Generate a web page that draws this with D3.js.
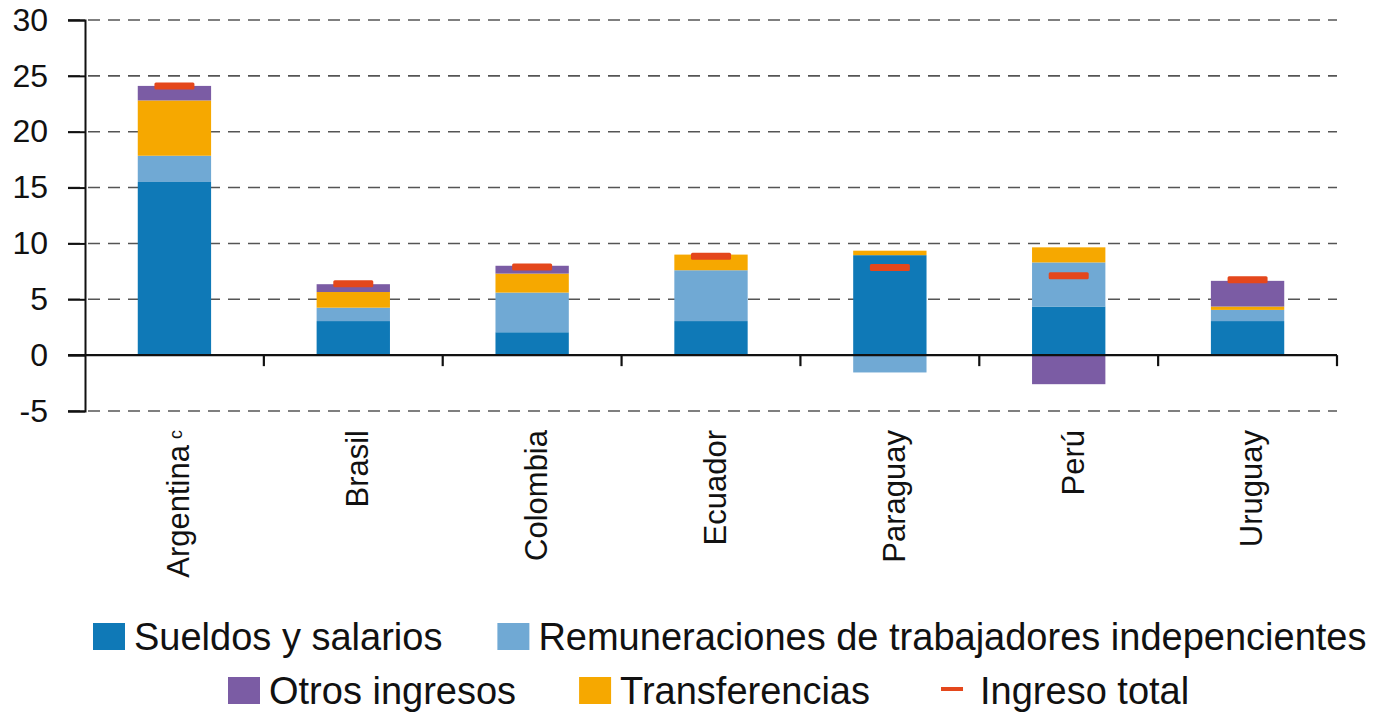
<!DOCTYPE html>
<html>
<head>
<meta charset="utf-8">
<script src="https://cdn.jsdelivr.net/npm/d3@7"></script>
<style>
  body { margin: 0; background: #fff; }
  text { font-family: "Liberation Sans", Arial, sans-serif; fill: #111; }
</style>
</head>
<body>
<div id="plot_div"></div>
<script>
const width  = 1377;
const height = 714;
const margin = {top: 20, right: 40, bottom: 303, left: 85};

// data
const countries   = ["Argentina", "Brasil", "Colombia", "Ecuador", "Paraguay", "Perú", "Uruguay"];
const sueldos     = [15.5, 3.05, 2.05, 3.05, 8.95, 4.35, 3.05];
const remun       = [2.35, 1.2, 3.55, 4.55, -1.55, 3.95, 1.0];
const transfer    = [4.95, 1.4, 1.7, 1.4, 0.4, 1.35, 0.3];
const otros       = [1.3, 0.7, 0.7, 0.0, 0.0, -2.6, 2.3];
const total       = [24.1, 6.4, 7.9, 8.85, 7.85, 7.1, 6.75];
const yTicks      = [-5, 0, 5, 10, 15, 20, 25, 30];

const keys   = ["sueldos", "remun", "transfer", "otros"];
const names  = {sueldos: "Sueldos y salarios",
                remun: "Remuneraciones de trabajadores indepencientes",
                otros: "Otros ingresos",
                transfer: "Transferencias",
                total: "Ingreso total"};
const colors = {sueldos: "#0f79b7", remun: "#70a9d4", transfer: "#f6a800",
                otros: "#7b5ca4", total: "#e4471c"};

const table = countries.map((c, i) => ({country: c, sueldos: sueldos[i], remun: remun[i],
                                         transfer: transfer[i], otros: otros[i], total: total[i]}));

const svg = d3.create("svg")
      .attr("width", width)
      .attr("height", height)
      .attr("viewBox", [0, 0, width, height]);

// attach now so text can be measured
plot_div.append(svg.node());

const x = d3.scaleBand()
      .domain(countries)
      .range([margin.left, width - margin.right])
      .paddingInner(0.59)
      .paddingOuter(0.295);

const y = d3.scaleLinear()
      .domain([-5, 30])
      .range([height - margin.bottom, margin.top]);

// dashed grid
svg.append("g")
    .selectAll("line")
    .data(yTicks.filter(d => d !== 0))
    .join("line")
    .attr("x1", margin.left - 17)
    .attr("x2", width - margin.right)
    .attr("y1", d => y(d))
    .attr("y2", d => y(d))
    .attr("stroke", "#555")
    .attr("stroke-width", 1.6)
    .attr("stroke-dasharray", "12,8");

// y axis
const yAxis = svg.append("g")
    .attr("transform", `translate(${margin.left},0)`)
    .call(d3.axisLeft(y).tickValues(yTicks).tickSize(17).tickPadding(20)
          .tickFormat(d => String(d)));
yAxis.selectAll("path, line").attr("stroke", "#111").attr("stroke-width", 2);
yAxis.selectAll("text")
    .style("font-family", "'Liberation Sans', Arial, sans-serif")
    .style("font-size", "32px")
    .attr("fill", "#111");

// stacked bars
const series = d3.stack().keys(keys).offset(d3.stackOffsetDiverging)(table);

svg.append("g")
    .selectAll("g")
    .data(series)
    .join("g")
    .attr("fill", d => colors[d.key])
    .selectAll("rect")
    .data(d => d)
    .join("rect")
    .attr("x", d => x(d.data.country))
    .attr("width", x.bandwidth())
    .attr("y", d => y(Math.max(d[0], d[1])))
    .attr("height", d => Math.abs(y(d[0]) - y(d[1])));

// zero axis with category separators
const zero = svg.append("g");
zero.append("line")
    .attr("x1", margin.left - 17)
    .attr("x2", width - margin.right)
    .attr("y1", y(0))
    .attr("y2", y(0))
    .attr("stroke", "#111")
    .attr("stroke-width", 2.2);
zero.selectAll("line.sep")
    .data(countries)
    .join("line")
    .attr("class", "sep")
    .attr("x1", d => x(d) + x.bandwidth() + x.step() * 0.295)
    .attr("x2", d => x(d) + x.bandwidth() + x.step() * 0.295)
    .attr("y1", y(0))
    .attr("y2", y(0) + 11)
    .attr("stroke", "#111")
    .attr("stroke-width", 2.2);

// total markers
svg.append("g")
    .selectAll("rect")
    .data(table)
    .join("rect")
    .attr("x", d => x(d.country) + x.bandwidth() / 2 - 20)
    .attr("y", d => y(d.total) - 3.5)
    .attr("width", 40)
    .attr("height", 7)
    .attr("rx", 1.5)
    .attr("fill", colors.total);

// category labels
const lab = svg.append("g")
    .selectAll("text")
    .data(countries)
    .join("text")
    .attr("transform", d => `translate(${x(d) + x.bandwidth() / 2 + 4},430) rotate(-90)`)
    .attr("text-anchor", "end")
    .attr("dy", "0.35em")
    .style("font-size", "31px");
lab.append("tspan").text(d => d);
lab.filter(d => d === "Argentina")
    .append("tspan")
    .attr("dx", 6)
    .attr("baseline-shift", "40%")
    .style("font-size", "18px")
    .text("c");

// legend (y = text baseline)
const legendRows = [
  {start: 93, y: 650, gap: 55, items: ["sueldos", "remun"]},
  {start: 228, y: 704, gap: 63, items: ["otros", "transfer", "total"]}
];
legendRows.forEach(row => {
  let cx = row.start;
  row.items.forEach(k => {
    const g = svg.append("g").attr("transform", `translate(${cx},${row.y})`);
    if (k === "total") {
      g.append("rect").attr("x", 8).attr("y", -17).attr("width", 22).attr("height", 4)
        .attr("fill", colors[k]);
    } else {
      g.append("rect").attr("x", 0).attr("y", -27).attr("width", 32).attr("height", 27)
        .attr("fill", colors[k]);
    }
    const tx = k === "total" ? 47 : 41;
    const t = g.append("text")
      .attr("x", tx)
      .style("font-size", "38px")
      .text(names[k]);
    cx += tx + t.node().getComputedTextLength() + row.gap;
  });
});
</script>
</body>
</html>
